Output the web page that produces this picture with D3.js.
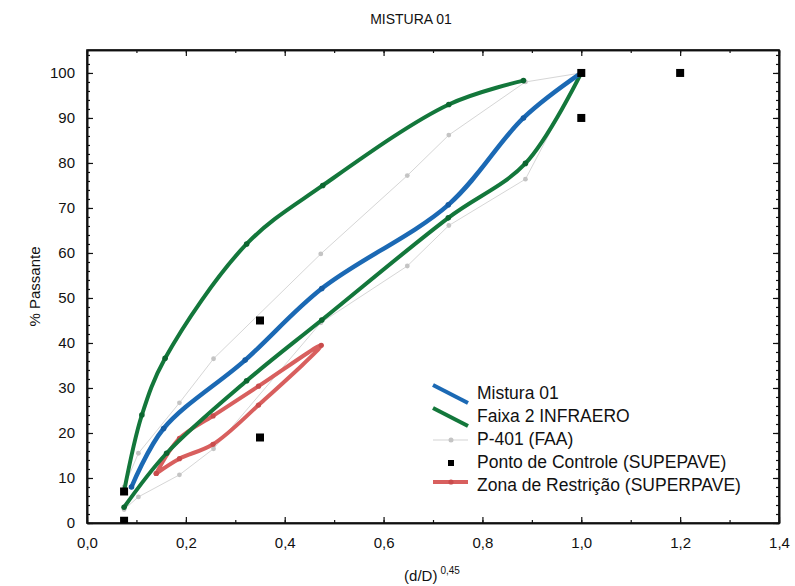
<!DOCTYPE html>
<html>
<head>
<meta charset="utf-8">
<script src="https://cdn.jsdelivr.net/npm/d3@7"></script>
<style>
  body { margin: 0; background: #fff; }
  text { font-family: "Liberation Sans", Arial, sans-serif; fill: #111; }
</style>
</head>
<body>
<div id="chart"></div>
<script>
// series, as [x, y] pairs, x = (d/D)^0,45, y = % passante
const mistura01 = [[0.09, 8], [0.155, 21], [0.32, 36.2], [0.475, 52.1], [0.731, 70.7], [0.883, 90], [1.0, 100]];
const faixaSup = [[0.075, 7], [0.111, 24], [0.158, 36.6], [0.323, 62], [0.477, 75], [0.732, 93], [0.883, 98.3]];
const faixaInf = [[0.075, 3.5], [0.161, 15.5], [0.323, 31.6], [0.475, 45.1], [0.731, 67.8], [0.887, 79.9], [1.0, 100]];
const p401 = [[0.075, 8], [0.104, 15.5], [0.187, 26.7], [0.256, 36.5], [0.473, 59.8], [0.648, 77.2], [0.732, 86.2], [0.887, 98], [1.0, 100],
              [0.887, 76.4], [0.732, 66.1], [0.648, 57.1], [0.473, 44.5], [0.256, 16.5], [0.187, 10.7], [0.104, 5.8], [0.075, 3]];
const controleX = [0.075, 0.075, 0.35, 0.35, 1.0, 1.0, 1.2];
const controleY = [0.5, 7, 19, 45, 90, 100, 100];
const zonaRestricao = [[0.14, 11], [0.187, 18.8], [0.255, 23.8], [0.347, 30.4], [0.474, 39.5],
                       [0.347, 26.2], [0.255, 17.5], [0.187, 14.3], [0.14, 11]];

const xTicks = [0, 0.2, 0.4, 0.6, 0.8, 1.0, 1.2, 1.4];
const yTicks = [0, 10, 20, 30, 40, 50, 60, 70, 80, 90, 100];
const legendNames = ["Mistura 01", "Faixa 2 INFRAERO", "P-401 (FAA)", "Ponto de Controle (SUPEPAVE)", "Zona de Restrição (SUPERPAVE)"];

const blue = "#1b69b4", green = "#13773b", red = "#d85f5e", grey = "#d6d6d6";

const W = 795, H = 586;
const margin = { top: 50, right: 16, bottom: 63, left: 87 };
const width = W - margin.left - margin.right;
const height = H - margin.top - margin.bottom;

const svg = d3.select("#chart").append("svg")
    .attr("width", W).attr("height", H);

const g = svg.append("g")
    .attr("transform", `translate(${margin.left},${margin.top})`);

const x = d3.scaleLinear().domain([0, 1.4]).range([0, width]);
const y = d3.scaleLinear().domain([0, 105.1]).range([height, 0]);

// clip so the bottom control point is cut by the axis like in the picture
g.append("clipPath").attr("id", "plotclip")
    .append("rect").attr("width", width).attr("height", height);

// axes, ticks pointing inward, on all four sides
const fmt = d => d3.format(".1f")(d).replace(".", ",");
const xMinor = d3.range(0, 1.401, 0.1);
const yMinor = d3.range(0, 105, 2);

g.append("g").attr("transform", `translate(0,${height})`)
    .call(d3.axisBottom(x).tickValues(xTicks).tickFormat(fmt).tickSizeInner(-6).tickSizeOuter(0).tickPadding(14));
g.append("g").attr("transform", `translate(0,${height})`)
    .call(d3.axisBottom(x).tickValues(xMinor).tickFormat("").tickSizeInner(-3).tickSizeOuter(0));
g.append("g")
    .call(d3.axisTop(x).tickValues(xTicks).tickFormat("").tickSizeInner(-6).tickSizeOuter(0));
g.append("g")
    .call(d3.axisTop(x).tickValues(xMinor).tickFormat("").tickSizeInner(-3).tickSizeOuter(0));
g.append("g")
    .call(d3.axisLeft(y).tickValues(yTicks).tickSizeInner(-6).tickSizeOuter(0).tickPadding(12));
g.append("g")
    .call(d3.axisLeft(y).tickValues(yMinor).tickFormat("").tickSizeInner(-3).tickSizeOuter(0));
g.append("g").attr("transform", `translate(${width},0)`)
    .call(d3.axisRight(y).tickValues(yTicks).tickFormat("").tickSizeInner(-6).tickSizeOuter(0));
g.append("g").attr("transform", `translate(${width},0)`)
    .call(d3.axisRight(y).tickValues(yMinor).tickFormat("").tickSizeInner(-3).tickSizeOuter(0));

g.selectAll(".domain").attr("stroke", "#111").attr("stroke-width", 1.6);
g.selectAll(".tick line").attr("stroke", "#111").attr("stroke-width", 1.2);
g.selectAll(".tick text").style("font-size", "15px").attr("fill", "#111")
    .style("font-family", "'Liberation Sans', Arial, sans-serif");

// frame
g.append("rect").attr("width", width).attr("height", height)
    .attr("fill", "none").attr("stroke", "#111").attr("stroke-width", 1.6);

const plot = g.append("g").attr("clip-path", "url(#plotclip)");

const smooth = d3.line().x(d => x(d[0])).y(d => y(d[1])).curve(d3.curveCatmullRom.alpha(0.5));
const straight = d3.line().x(d => x(d[0])).y(d => y(d[1]));

// P-401 (FAA) thin grey band
plot.append("path").datum(p401).attr("d", straight)
    .attr("fill", "none").attr("stroke", grey).attr("stroke-width", 1);
plot.selectAll(".p401pt").data(p401).enter().append("circle")
    .attr("cx", d => x(d[0])).attr("cy", d => y(d[1])).attr("r", 2.4)
    .attr("fill", "#c4c4c4");

// Zona de Restricao
plot.append("path").datum(zonaRestricao).attr("d", smooth)
    .attr("fill", "none").attr("stroke", red).attr("stroke-width", 4)
    .attr("stroke-linejoin", "round").attr("stroke-linecap", "round");
plot.selectAll(".zonapt").data(zonaRestricao).enter().append("circle")
    .attr("cx", d => x(d[0])).attr("cy", d => y(d[1])).attr("r", 2.6)
    .attr("fill", "#c94c4c");

// Faixa 2 INFRAERO, both limits
[faixaSup, faixaInf].forEach(s => {
    plot.append("path").datum(s).attr("d", smooth)
        .attr("fill", "none").attr("stroke", green).attr("stroke-width", 4)
        .attr("stroke-linecap", "round");
    plot.selectAll(null).data(s).enter().append("circle")
        .attr("cx", d => x(d[0])).attr("cy", d => y(d[1])).attr("r", 2.8)
        .attr("fill", "#0c6630");
});

// Mistura 01
plot.append("path").datum(mistura01).attr("d", smooth)
    .attr("fill", "none").attr("stroke", blue).attr("stroke-width", 4.5)
    .attr("stroke-linecap", "round");
plot.selectAll(".mistpt").data(mistura01).enter().append("circle")
    .attr("cx", d => x(d[0])).attr("cy", d => y(d[1])).attr("r", 2.8)
    .attr("fill", "#155ca3");

// pontos de controle
plot.selectAll(".ctrl").data(controleX).enter().append("rect")
    .attr("x", (d, i) => x(d) - 4).attr("y", (d, i) => y(controleY[i]) - 4)
    .attr("width", 8).attr("height", 8).attr("fill", "#000");

// legend
const lx = 433, ly0 = 393, step = 23;
const leg = svg.append("g");
legendNames.forEach((name, i) => {
    const cy = ly0 + i * step;
    if (i < 2) {
        leg.append("line").attr("x1", lx).attr("y1", cy - 8).attr("x2", lx + 35).attr("y2", cy + 10)
            .attr("stroke", i === 0 ? blue : green).attr("stroke-width", 4);
    } else if (i === 2) {
        leg.append("line").attr("x1", lx).attr("y1", cy + 1).attr("x2", lx + 35).attr("y2", cy + 1)
            .attr("stroke", "#e2e2e2").attr("stroke-width", 1.5);
        leg.append("circle").attr("cx", lx + 18).attr("cy", cy + 1).attr("r", 2.5).attr("fill", "#c4c4c4");
    } else if (i === 3) {
        leg.append("rect").attr("x", lx + 15).attr("y", cy - 2).attr("width", 6).attr("height", 6).attr("fill", "#000");
    } else {
        leg.append("line").attr("x1", lx).attr("y1", cy - 3).attr("x2", lx + 35).attr("y2", cy - 3)
            .attr("stroke", red).attr("stroke-width", 4);
        leg.append("circle").attr("cx", lx + 18).attr("cy", cy - 3).attr("r", 2.6).attr("fill", "#c94c4c");
    }
    leg.append("text").attr("x", lx + 44).attr("y", cy).attr("dy", "0.35em")
        .style("font-size", "17.5px").text(name);
});

// title and axis labels
svg.append("text").attr("x", 411).attr("y", 24).attr("text-anchor", "middle")
    .style("font-size", "14px").text("MISTURA 01");

svg.append("text").attr("transform", "rotate(-90)")
    .attr("x", -(margin.top + height / 2)).attr("y", 40).attr("text-anchor", "middle")
    .style("font-size", "15px").text("% Passante");

const xl = svg.append("text").attr("x", 432).attr("y", 581).attr("text-anchor", "middle")
    .style("font-size", "15px");
xl.append("tspan").text("(d/D)");
xl.append("tspan").attr("dy", -7).attr("dx", 3).style("font-size", "10px").text("0,45");
</script>
</body>
</html>
